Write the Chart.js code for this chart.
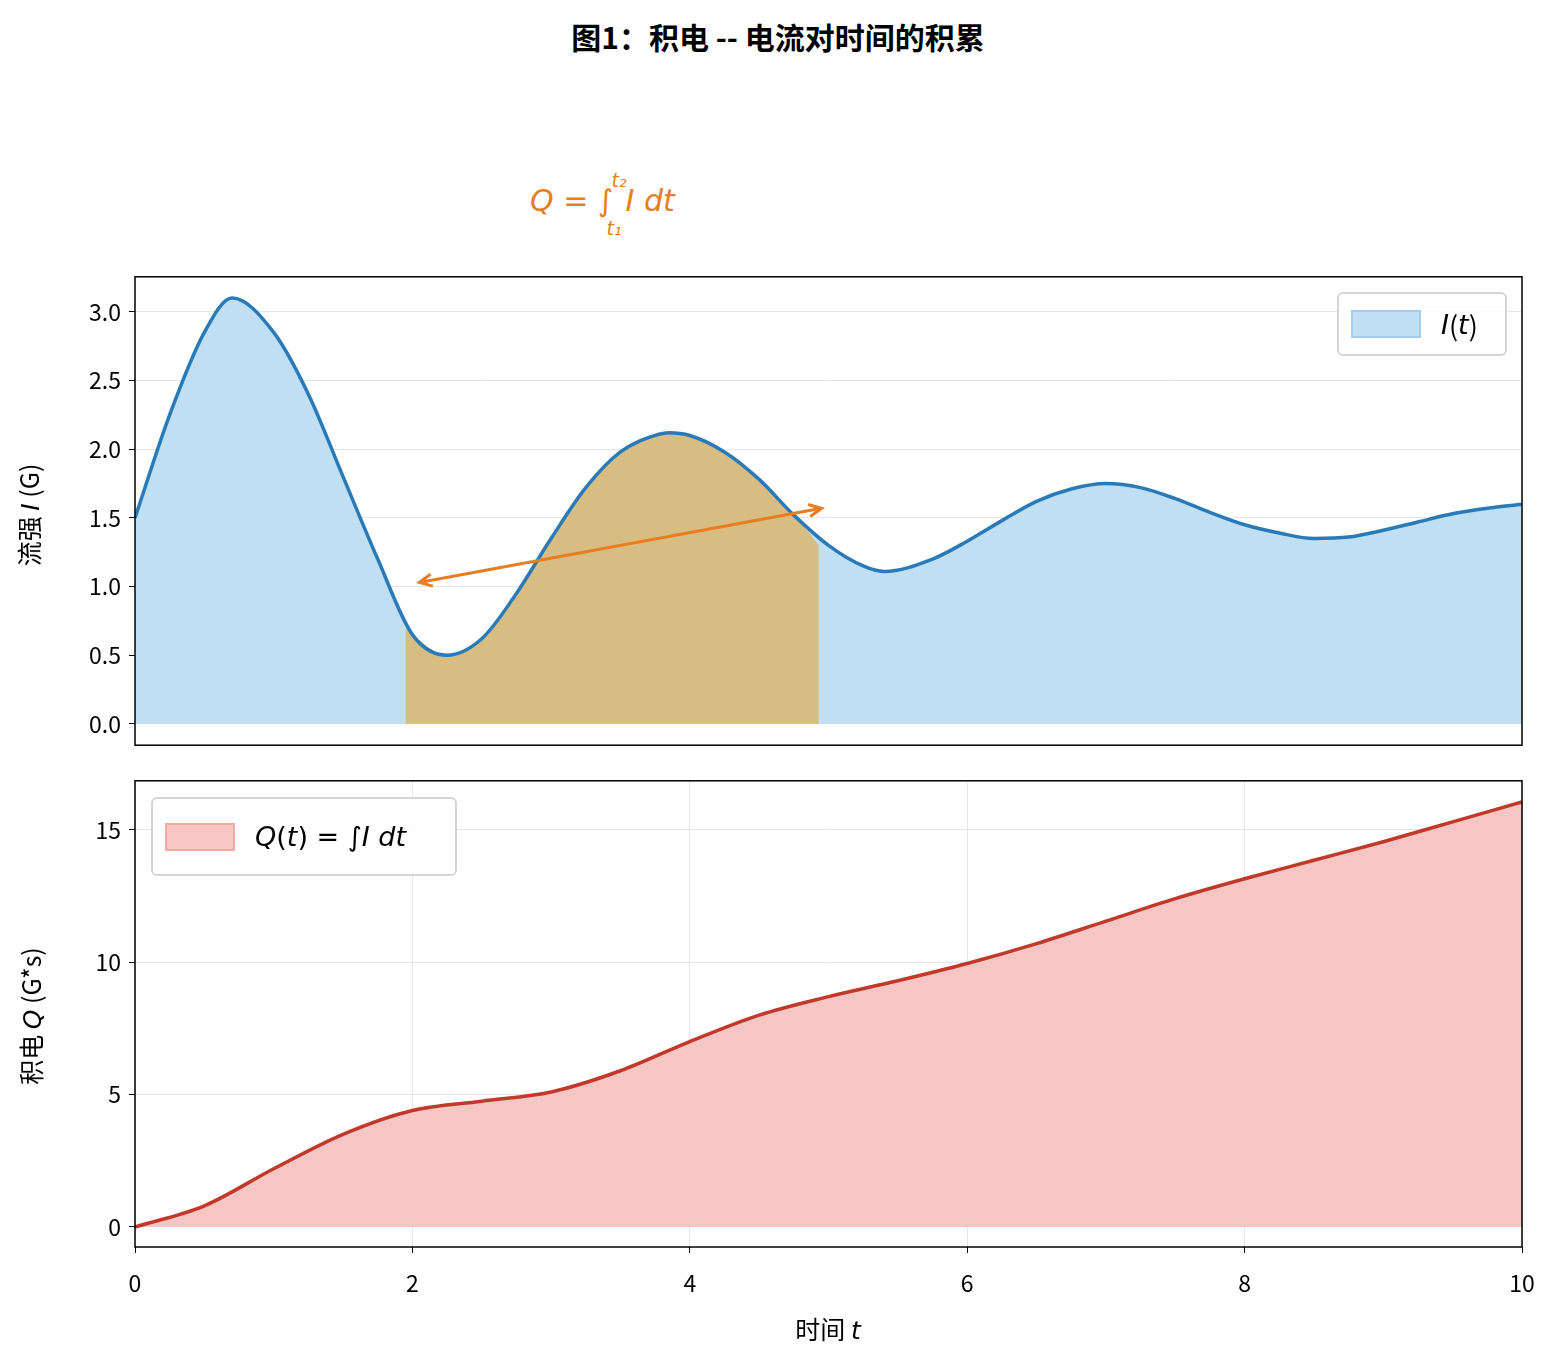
<!DOCTYPE html>
<html><head><meta charset="utf-8">
<script src="https://cdn.jsdelivr.net/npm/chart.js@4"></script>
<style>
body{margin:0;width:1561px;height:1368px;background:#fff;position:relative;font-family:"Noto Sans CJK SC","Noto Sans",sans-serif;overflow:hidden}
.abs{position:absolute}
canvas{position:absolute;left:0}
.leg{position:absolute;border:2px solid #d5d5d5;border-radius:6px;background:rgba(255,255,255,0.85);display:flex;align-items:center;font-size:27px}
.sw{width:66px;height:24px;margin:0 20px 0 12px}
i{font-family:"DejaVu Sans";font-style:italic}
</style></head><body>
<div class="abs" style="left:0;width:1556px;top:14px;text-align:center;font-size:30px;font-weight:bold">图1：积电 -- 电流对时间的积累</div>
<div class="abs" style="left:530px;top:183px;color:#e67e22;font-size:30px;font-family:'DejaVu Sans';font-style:italic">Q = ∫<span style="position:relative;font-size:19px;top:-24px;left:-2px">t₂</span><span style="position:relative;font-size:19px;top:24px;left:-22px">t₁</span><span style="margin-left:-18px">I dt</span></div>
<canvas id="c1" width="1561" height="512" style="top:255px;width:1561px;height:512px"></canvas>
<canvas id="c2" width="1561" height="609" style="top:759px;width:1561px;height:609px"></canvas>
<div class="abs" style="left:-42px;top:497px;width:140px;text-align:center;transform:rotate(-90deg);font-size:25px">流强 <i>I</i> (G)</div>
<div class="abs" style="left:-65px;top:998px;width:190px;text-align:center;transform:rotate(-90deg);font-size:25px">积电 <i>Q</i> (G*s)</div>
<div class="abs" style="left:0;width:1656px;top:1310px;text-align:center;font-size:25px">时间 <i>t</i></div>
<div class="leg" style="left:1337px;top:292px;width:166px;height:60px"><div class="sw" style="background:#c0dff3;border:2px solid #a3cdee;"></div><i>I</i>(<i>t</i>)</div>
<div class="leg" style="left:151px;top:797px;width:302px;height:75px"><div class="sw" style="background:#f5c6c3;border:2px solid #f0a9a3;"></div><span style="font-family:'DejaVu Sans'"><i>Q</i>(<i>t</i>) = ∫<i>I dt</i></span></div>
<script>
const tI=[0,0.25,0.5,0.7,1.0,1.25,1.5,1.75,2.0,2.25,2.5,2.75,3.0,3.25,3.5,3.75,3.85,4.0,4.25,4.5,4.75,5.0,5.25,5.4,5.75,6.0,6.25,6.5,6.75,7.0,7.25,7.5,7.75,8.0,8.25,8.5,8.75,9.0,9.25,9.5,9.75,10];
const vI=[1.5,2.25,2.85,3.1,2.85,2.4,1.8,1.2,0.65,0.5,0.62,0.95,1.35,1.72,1.98,2.1,2.12,2.1,1.98,1.78,1.52,1.3,1.15,1.11,1.2,1.33,1.48,1.62,1.71,1.75,1.72,1.64,1.54,1.45,1.39,1.35,1.36,1.41,1.47,1.53,1.57,1.6];
const shadeT=[1.95,2.0,2.25,2.5,2.75,3.0,3.25,3.5,3.75,3.85,4.0,4.25,4.5,4.75,4.93];
const shadeV=[0.7,0.65,0.5,0.62,0.95,1.35,1.72,1.98,2.1,2.12,2.1,1.98,1.78,1.52,1.3];
const arrowT=[2.05,4.95];
const arrowV=[1.03,1.57];
const tQ=[0,0.5,1.0,1.5,2.0,2.5,3.0,3.5,4.0,4.5,5.0,5.5,6.0,6.5,7.0,7.5,8.0,8.5,9.0,9.5,10];
const vQ=[0,0.8,2.2,3.5,4.4,4.75,5.1,5.9,7.0,8.0,8.7,9.3,9.95,10.7,11.55,12.4,13.15,13.85,14.55,15.3,16.05];
const xt=[0,2,4,6,8,10];
const pts=(a,b)=>a.map((x,i)=>({x,y:b[i]}));
Chart.defaults.font.family='"Noto Sans CJK SC","Noto Sans",sans-serif';
Chart.defaults.font.size=23;Chart.defaults.color='#000';
const frame={id:'frame',afterDraw(c){const a=c.chartArea,x=c.ctx;x.save();x.strokeStyle='#000';x.lineWidth=1.5;x.strokeRect(a.left,a.top,a.right-a.left,a.bottom-a.top);x.restore();}};
const arrow={id:'arrow',afterDatasetsDraw(c){const x=c.ctx,sx=c.scales.x,sy=c.scales.y;
 const p=[0,1].map(i=>[sx.getPixelForValue(arrowT[i]),sy.getPixelForValue(arrowV[i])]);
 x.save();x.strokeStyle='#e67e22';x.lineWidth=3;x.beginPath();x.moveTo(...p[0]);x.lineTo(...p[1]);x.stroke();
 const head=(a,b)=>{const ang=Math.atan2(a[1]-b[1],a[0]-b[0]);x.beginPath();x.moveTo(a[0]-14*Math.cos(ang-0.45),a[1]-14*Math.sin(ang-0.45));x.lineTo(a[0],a[1]);x.lineTo(a[0]-14*Math.cos(ang+0.45),a[1]-14*Math.sin(ang+0.45));x.stroke();};
 head(p[0],p[1]);head(p[1],p[0]);x.restore();}};
new Chart(document.getElementById('c1'),{type:'line',data:{datasets:[
 {data:pts(tI,vI),borderWidth:0,backgroundColor:'#c0dff3',fill:'origin',pointRadius:0,cubicInterpolationMode:'monotone',order:3},
 {data:pts(shadeT,shadeV),borderWidth:0,backgroundColor:'#d8bd83',fill:'origin',pointRadius:0,cubicInterpolationMode:'monotone',order:2},
 {data:pts(tI,vI),borderColor:'#2a7ab8',borderWidth:3.5,fill:false,pointRadius:0,cubicInterpolationMode:'monotone',order:1}
]},options:{responsive:false,animation:false,layout:{padding:{left:0,right:39,top:7,bottom:10}},
 plugins:{legend:{display:false},tooltip:{enabled:false}},
 scales:{x:{type:'linear',min:0,max:10,display:false},
  y:{min:-0.155,max:3.255,afterFit(s){s.width=135},afterBuildTicks(s){s.ticks=[0,0.5,1,1.5,2,2.5,3].map(v=>({value:v}))},
   ticks:{callback:v=>v.toFixed(1),padding:8},grid:{color:'#e5e5e5',drawTicks:true,tickColor:'#000',tickLength:6},border:{display:false}}}},
 plugins:[frame,arrow]});
new Chart(document.getElementById('c2'),{type:'line',data:{datasets:[
 {data:pts(tQ,vQ),borderColor:'#c0392b',borderWidth:3.5,backgroundColor:'#f5c6c3',fill:'origin',pointRadius:0,cubicInterpolationMode:'monotone'}
]},options:{responsive:false,animation:false,layout:{padding:{left:0,right:39,top:11,bottom:0}},
 plugins:{legend:{display:false},tooltip:{enabled:false}},
 scales:{x:{type:'linear',min:0,max:10,afterFit(s){s.height=121},afterBuildTicks(s){s.ticks=xt.map(v=>({value:v}))},
   ticks:{padding:16},grid:{color:'#e5e5e5',tickColor:'#000',tickLength:6},border:{display:false}},
  y:{min:-0.756,max:16.85,afterFit(s){s.width=135},afterBuildTicks(s){s.ticks=[0,5,10,15].map(v=>({value:v}))},
   ticks:{padding:8},grid:{color:'#e5e5e5',tickColor:'#000',tickLength:6},border:{display:false}}}},
 plugins:[frame]});
</script></body></html>
